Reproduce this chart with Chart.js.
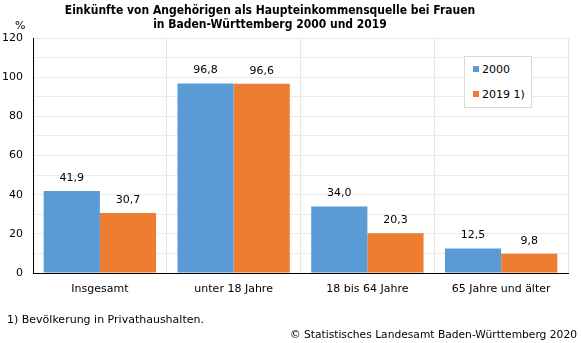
<!DOCTYPE html>
<html>
<head>
<meta charset="utf-8">
<script src="https://cdn.jsdelivr.net/npm/chart.js@4/dist/chart.umd.min.js"></script>
<style>
  html, body { margin: 0; padding: 0; background: #fff; }
  body { width: 581px; height: 343px; position: relative; overflow: hidden;
         font-family: "DejaVu Sans", sans-serif; font-size: 11px; color: #000; }
  #wrap { position: absolute; left: 0; top: 0; width: 581px; height: 343px; }
  .txt { position: absolute; white-space: nowrap; }
  #title { left: 20px; width: 500px; top: 3px; text-align: center; font-weight: bold; font-size: 12px; line-height: 14px;
           font-family: "DejaVu Sans Condensed", "DejaVu Sans", sans-serif; }
  #unit { left: 15px; top: 19px; }
  #legend { left: 464px; top: 56px; width: 66px; height: 50px; border: 1px solid #d9d9d9; background: #fff; }
  #legend .item { position: absolute; left: 8px; }
  #legend .sw { display: inline-block; width: 6px; height: 6px; margin-right: 3px; vertical-align: 1px; }
  #foot { left: 7px; top: 313px; }
  #copy { right: 4px; top: 328px; font-size: 10.7px; }
</style>
</head>
<body>
<div id="wrap"><canvas id="chart" width="581" height="343"></canvas></div>
<div class="txt" id="title">Einkünfte von Angehörigen als Haupteinkommensquelle bei Frauen<br>in Baden-Württemberg 2000 und 2019</div>
<div class="txt" id="unit">%</div>
<div class="txt" id="legend"></div>
<div class="txt" id="foot">1) Bevölkerung in Privathaushalten.</div>
<div class="txt" id="copy">© Statistisches Landesamt Baden-Württemberg 2020</div>
<script>
const categories = ['Insgesamt', 'unter 18 Jahre', '18 bis 64 Jahre', '65 Jahre und älter'];
const values2000 = [41.9, 96.8, 34.0, 12.5];
const values2019 = [30.7, 96.6, 20.3, 9.8];
const seriesLabels = ['2000', '2019 1)'];
const seriesColors = ['#5b9bd5', '#ed7d31'];
const yTicks = [0, 20, 40, 60, 80, 100, 120];

const FONT = '"DejaVu Sans", sans-serif';

// legend box
const legend = document.getElementById('legend');
seriesLabels.forEach((label, i) => {
    const item = document.createElement('div');
    item.className = 'item';
    item.style.top = (i === 0 ? 6 : 31) + 'px';
    item.innerHTML = `<span class="sw" style="background:${seriesColors[i]}"></span>${label}`;
    legend.appendChild(item);
});

const valueLabels = {
    id: 'valueLabels',
    afterDatasetsDraw(chart) {
        const ctx = chart.ctx;
        ctx.save();
        ctx.font = '11px ' + FONT;
        ctx.fillStyle = '#000';
        ctx.textAlign = 'center';
        ctx.textBaseline = 'middle';
        chart.data.datasets.forEach((ds, di) => {
            chart.getDatasetMeta(di).data.forEach((bar, i) => {
                ctx.fillText(ds.data[i].toFixed(1).replace('.', ','), bar.x, bar.y - 13);
            });
        });
        ctx.restore();
    }
};

new Chart(document.getElementById('chart'), {
    type: 'bar',
    data: {
        labels: categories,
        datasets: [
            { label: seriesLabels[0], data: values2000, backgroundColor: seriesColors[0] },
            { label: seriesLabels[1], data: values2019, backgroundColor: seriesColors[1] }
        ]
    },
    options: {
        responsive: false,
        animation: false,
        layout: { padding: { left: 0, right: 13, top: 38, bottom: 0 } },
        datasets: { bar: { categoryPercentage: 0.84, barPercentage: 1.0 } },
        plugins: { legend: { display: false }, tooltip: { enabled: false } },
        scales: {
            x: {
                grid: { color: '#e6e6e6', drawTicks: false },
                border: { color: '#000', width: 1 },
                ticks: { color: '#000', font: { family: FONT, size: 11 }, padding: 10 },
                afterFit(scale) { scale.height = 70; }
            },
            y: {
                min: 0, max: 120,
                grid: { color: '#ebebeb', drawTicks: false },
                border: { color: '#000', width: 1 },
                ticks: {
                    stepSize: 10, color: '#000', padding: 10,
                    font: { family: FONT, size: 11 },
                    callback: v => yTicks.includes(v) ? String(v) : ''
                },
                afterFit(scale) { scale.width = 33; }
            }
        }
    },
    plugins: [valueLabels]
});
</script>
</body>
</html>
